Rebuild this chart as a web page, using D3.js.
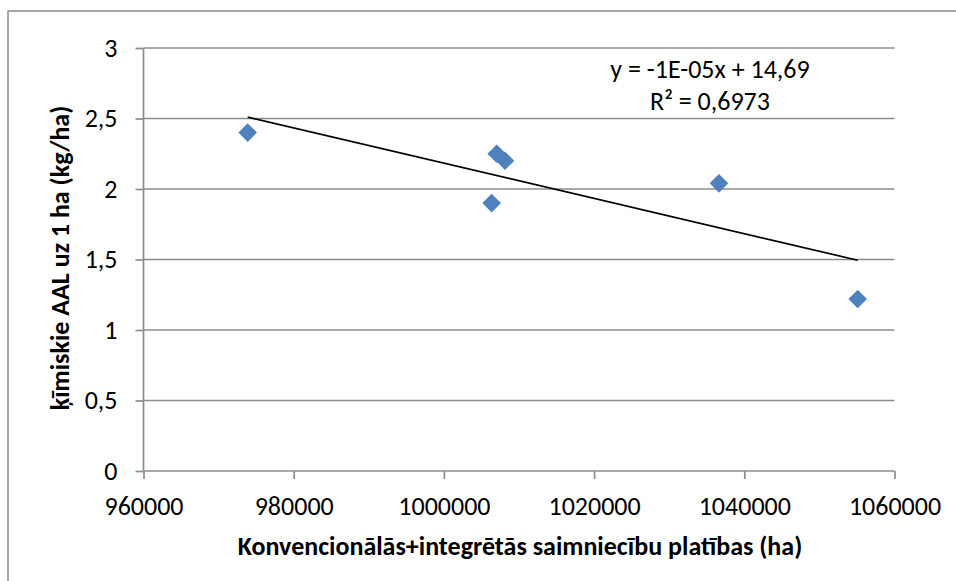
<!DOCTYPE html>
<html>
<head>
<meta charset="utf-8">
<script src="https://cdn.jsdelivr.net/npm/d3@7"></script>
<style>
  body { margin: 0; background: #fff; }
  text { font-family: Carlito, Calibri, Lato, sans-serif; fill: #000; }
</style>
</head>
<body>
<div id="chart"></div>
<script>
// data
var areaHa = [973875, 1007030, 1008140, 1006360, 1036630, 1055100];
var chemKgHa = [2.40, 2.25, 2.20, 1.90, 2.04, 1.22];
var xTicks = [960000, 980000, 1000000, 1020000, 1040000, 1060000];
var yTicks = [0, 0.5, 1, 1.5, 2, 2.5, 3];
var trendLabel = ["y = -1E-05x + 14,69", "R² = 0,6973"];

var W = 956, H = 581;
var margin = {top: 48, right: 61, bottom: 110, left: 143.5},
    width = 894.5 - margin.left,
    height = 471 - margin.top;
var fs = "26px";

var svg = d3.select("#chart")
    .append("svg")
    .attr("width", W)
    .attr("height", H);

// outer chart frame
svg.append("rect")
    .attr("x", 8).attr("y", 11)
    .attr("width", W).attr("height", H)
    .attr("fill", "none")
    .attr("stroke", "#8c8c8c")
    .attr("stroke-width", 1.5);

var g = svg.append("g")
    .attr("transform", "translate(" + margin.left + "," + margin.top + ")");

var x = d3.scaleLinear().domain([960000, 1060000]).range([0, width]);
var y = d3.scaleLinear().domain([0, 3]).range([height, 0]);

var fmt = function(d) { return String(d).replace(".", ","); };

// gridlines
g.append("g")
    .selectAll("line")
    .data(yTicks.filter(d => d > 0))
    .join("line")
    .attr("x1", 0).attr("x2", width)
    .attr("y1", d => y(d)).attr("y2", d => y(d))
    .attr("stroke", "#8c8c8c")
    .attr("stroke-width", 1.7);

// axes
var yAxis = g.append("g")
    .call(d3.axisLeft(y).tickValues(yTicks).tickSize(8).tickPadding(18).tickFormat(fmt));
var xAxis = g.append("g")
    .attr("transform", "translate(0," + height + ")")
    .call(d3.axisBottom(x).tickValues(xTicks).tickSize(8).tickPadding(18).tickFormat(d3.format("d")));

[xAxis, yAxis].forEach(function(a) {
  a.attr("font-size", null).attr("font-family", null);
  a.selectAll("path, line").attr("stroke", "#8c8c8c").attr("stroke-width", 1.7);
  a.select(".domain").attr("d", a === xAxis ? "M0,0H" + width : "M0," + height + "V0");
  a.selectAll("text").style("font-size", fs).attr("fill", "#000");
});

// linear trendline (least squares)
var mx = d3.mean(areaHa), my = d3.mean(chemKgHa);
var sxy = d3.sum(areaHa, (d, i) => (d - mx) * (chemKgHa[i] - my));
var sxx = d3.sum(areaHa, d => (d - mx) * (d - mx));
var slope = sxy / sxx, icpt = my - slope * mx;
var xExt = d3.extent(areaHa);

g.append("line")
    .attr("x1", x(xExt[0])).attr("y1", y(slope * xExt[0] + icpt))
    .attr("x2", x(xExt[1])).attr("y2", y(slope * xExt[1] + icpt))
    .attr("stroke", "#000")
    .attr("stroke-width", 1.7);

// markers
g.selectAll(".pt")
    .data(areaHa)
    .join("path")
    .attr("class", "pt")
    .attr("d", d3.symbol().type(d3.symbolDiamond2).size(220))
    .attr("transform", (d, i) => "translate(" + x(d) + "," + y(chemKgHa[i]) + ")")
    .attr("fill", "#4f81bd");

// trendline label
svg.append("g").selectAll("text")
    .data(trendLabel)
    .join("text")
    .attr("x", 710)
    .attr("y", (d, i) => 78 + i * 32)
    .attr("text-anchor", "middle")
    .style("font-size", fs)
    .text(d => d);

// axis titles
svg.append("text")
    .attr("x", 520).attr("y", 555)
    .attr("text-anchor", "middle")
    .style("font-size", fs)
    .style("font-weight", "bold")
    .text("Konvencionālās+integrētās saimniecību platības (ha)");

svg.append("text")
    .attr("transform", "translate(69,258) rotate(-90)")
    .attr("text-anchor", "middle")
    .style("font-size", fs)
    .style("font-weight", "bold")
    .text("ķīmiskie AAL uz 1 ha (kg/ha)");
</script>
</body>
</html>
